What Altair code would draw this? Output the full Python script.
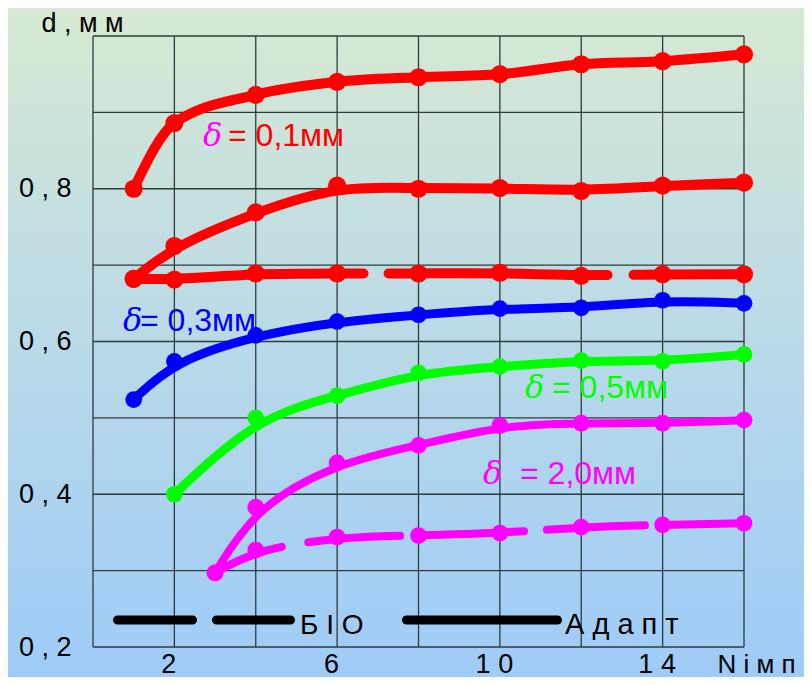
import altair as alt
import pandas as pd

# ---- data ----
N_main = [1, 2, 4, 6, 8, 10, 12, 14, 16]
red_top = [0.800, 0.886, 0.923, 0.940, 0.946, 0.950, 0.963, 0.967, 0.976]
red_mid = [0.682, 0.725, 0.769, 0.804, 0.800, 0.801, 0.797, 0.804, 0.808]
red_flat = [0.682, 0.681, 0.689, 0.689, 0.689, 0.690, 0.686, 0.688, 0.688]
blue_03 = [0.524, 0.574, 0.608, 0.626, 0.635, 0.643, 0.644, 0.654, 0.650]
N_green = [2, 4, 6, 8, 10, 12, 14, 16]
green_05 = [0.400, 0.500, 0.529, 0.559, 0.567, 0.575, 0.574, 0.583]
N_mag = [3, 4, 6, 8, 10, 12, 14, 16]
mag_20 = [0.297, 0.383, 0.441, 0.464, 0.490, 0.493, 0.493, 0.497]
mag_20_bio = [0.297, 0.327, 0.344, 0.346, 0.349, 0.357, 0.360, 0.362]

x_ticks = [2, 6, 10, 14]
x_tick_labels = ["2", "6", "1 0", "1 4"]
y_ticks = [0.2, 0.4, 0.6, 0.8]
y_tick_labels = ["0 , 2", "0 , 4", "0 , 6", "0 , 8"]
x_grid = [0, 2, 4, 6, 8, 10, 12, 14, 16]
y_grid = [0.2, 0.3, 0.4, 0.5, 0.6, 0.7, 0.8, 0.9, 1.0]

x_title = "N і м п"
y_title = "d , м м"
legend_dash_text = "Б І О"
legend_solid_text = "А д а п т"
delta = "δ"
ann_texts = ["= 0,1мм", "= 0,3мм", "= 0,5мм", "= 2,0мм"]

FONT = "Liberation Sans"
FS = 27
W, H = 651, 611

xs = alt.Scale(domain=[0, 16], nice=False, zero=False)
ys = alt.Scale(domain=[0.2, 1.0], nice=False, zero=False)


def ternary(field, vals, labels, tol=False):
    expr = "''"
    for v, l in reversed(list(zip(vals, labels))):
        cond = f"abs({field} - {v}) < 1e-6" if tol else f"{field} == {v}"
        expr = f"({cond} ? '{l}' : {expr})"
    return expr


x_axis = alt.Axis(
    values=x_ticks,
    labelExpr=ternary("datum.value", x_ticks, x_tick_labels),
    ticks=False, domain=False, grid=False,
    labelFont=FONT, labelFontSize=FS, labelColor="black",
    labelPadding=4, labelOffset=-6,
    title=x_title, titleFont=FONT, titleFontSize=26, titleFontWeight="normal",
    titleColor="black", titleX=624, titleY=25, titleAlign="left",
    titleBaseline="alphabetic", zindex=1,
)
y_axis = alt.Axis(
    values=y_ticks,
    labelExpr=ternary("datum.value", y_ticks, y_tick_labels, tol=True),
    ticks=False, domain=False, grid=False,
    labelFont=FONT, labelFontSize=FS, labelColor="black",
    labelPadding=22,
    title=y_title, titleFont=FONT, titleFontSize=FS, titleFontWeight="normal",
    titleColor="black", titleAngle=0, titleX=-52, titleY=-5, titleAlign="left",
    titleBaseline="alphabetic", zindex=1,
)

grad = alt.LinearGradient(
    gradient="linear",
    stops=[
        alt.GradientStop(offset=0, color="#d7e9d2"),
        alt.GradientStop(offset=0.45, color="#bcdbe6"),
        alt.GradientStop(offset=1, color="#9ecbf7"),
    ],
    x1=0, x2=0, y1=0, y2=1,
)
one = alt.Data(values=[{"k": 0}])

PAD_R = 60
bg = alt.Chart(one).mark_rect(fill=grad, strokeWidth=0).encode(
    x=alt.value(-85), x2=alt.value(W + PAD_R), y=alt.value(-28), y2=alt.value(H + 30)
)

grid_x = alt.Chart(pd.DataFrame({"N": x_grid})).mark_rule(
    color="#2e3b3b", strokeWidth=1.3
).encode(x=alt.X("N:Q", scale=xs, axis=x_axis))

grid_y = alt.Chart(pd.DataFrame({"d": y_grid})).mark_rule(
    color="#2e3b3b", strokeWidth=1.3
).encode(y=alt.Y("d:Q", scale=ys, axis=y_axis))


def series(nx, dy, color, width, size, dash=None, interp="basis"):
    df = pd.DataFrame({"N": nx, "d": dy})
    base = alt.Chart(df).encode(
        x=alt.X("N:Q", scale=xs, axis=x_axis),
        y=alt.Y("d:Q", scale=ys, axis=y_axis),
    )
    kw = dict(color=color, strokeWidth=width, interpolate=interp,
              strokeCap="round", strokeJoin="round")
    if dash:
        kw["strokeDash"] = dash
    return base.mark_line(**kw) + base.mark_circle(color=color, size=size, opacity=1)


RED, BLUE, GREEN, MAG = "#ff0000", "#0000ff", "#00ff00", "#ff00ff"

lines = [
    series(N_main, red_top, RED, 10, 330, interp="monotone"),
    series(N_main, red_mid, RED, 10, 330),
    series(N_main, red_flat, RED, 10, 330, dash=[230, 25, 219, 26, 300]),
    series(N_main, blue_03, BLUE, 9, 280),
    series(N_green, green_05, GREEN, 9, 280),
    series(N_mag, mag_20, MAG, 8, 280),
    series(N_mag, mag_20_bio, MAG, 8, 280, dash=[72, 27, 92, 16, 108, 23, 98, 16, 200]),
]

leg_dash = alt.Chart(one).mark_rule(
    color="black", strokeWidth=9, strokeCap="round", strokeDash=[75, 24, 300]
).encode(x=alt.value(24.5), x2=alt.value(197.5), y=alt.value(584))
leg_solid = alt.Chart(one).mark_rule(
    color="black", strokeWidth=9, strokeCap="round"
).encode(x=alt.value(313.5), x2=alt.value(464.5), y=alt.value(584))


def txt(s, x, y, color, italic=False, size=FS):
    return alt.Chart(one).mark_text(
        text=s, align="left", baseline="alphabetic",
        font="DejaVu Serif" if italic else FONT,
        fontStyle="italic" if italic else "normal",
        fontSize=size, color=color,
    ).encode(x=alt.value(x), y=alt.value(y))


AS = 32
texts = [
    txt(legend_dash_text, 207, 598, "black", size=28),
    txt(legend_solid_text, 472, 598, "black", size=29),
    txt(delta, 110, 110, MAG, italic=True, size=AS),
    txt(ann_texts[0], 135, 110, RED, size=AS),
    txt(delta, 30, 295, BLUE, italic=True, size=AS),
    txt(ann_texts[1], 47, 295, BLUE, size=AS),
    txt(delta, 432, 362, GREEN, italic=True, size=AS),
    txt(ann_texts[2], 459, 362, GREEN, size=AS),
    txt(delta, 390, 448, MAG, italic=True, size=AS),
    txt(ann_texts[3], 427, 448, MAG, size=AS),
]

chart = alt.layer(bg, grid_x, grid_y, *lines, leg_dash, leg_solid, *texts).properties(
    width=W, height=H,
    autosize=alt.AutoSizeParams(type="none"),
    padding={"left": 85, "top": 28, "right": PAD_R, "bottom": 30},
).configure_view(stroke=None)

chart.save("out.html", embed_options={"renderer": "svg", "actions": False})
